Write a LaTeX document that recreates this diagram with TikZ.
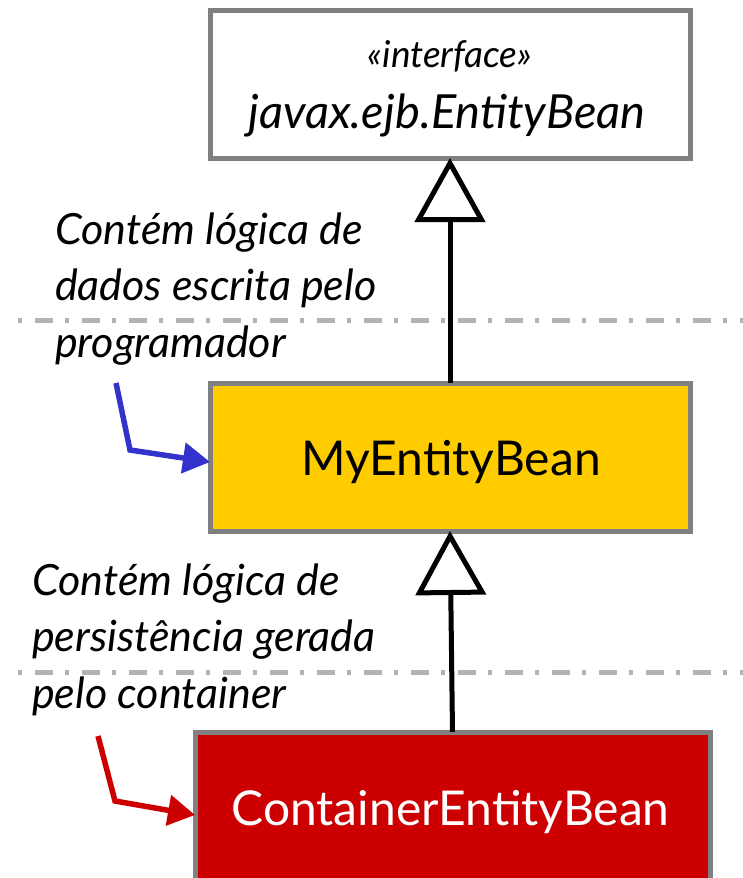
\documentclass[tikz,border=0pt]{standalone}
\usepackage{fontspec}
\setmainfont{Lato}
\usetikzlibrary{arrows.meta}
\definecolor{boxgray}{HTML}{808080}
\definecolor{sepgray}{HTML}{B3B3B3}
\definecolor{gold}{HTML}{FFCC00}
\definecolor{crimson}{HTML}{CC0000}
\definecolor{noteblue}{HTML}{3333CC}
\begin{document}
\begin{tikzpicture}[x=1pt,y=-1pt,
  classbox/.style={draw=boxgray, line width=5pt, outer sep=0pt, inner sep=0pt, rectangle},
  sepline/.style={sepgray, line width=5pt, dash pattern=on 4pt off 13pt on 18pt off 12pt},
  inherit/.style={line width=5pt, -{Triangle[open,length=64pt,width=70pt]}},
  note/.style={anchor=base west, inner sep=0pt, font=\fontsize{43}{56.5}\selectfont\itshape, align=left},
  callout/.style={line width=5.5pt, -{Triangle[length=27pt,width=30pt]}},
  label/.style={anchor=base, inner sep=0pt},
]
\useasboundingbox (0,0) rectangle (743,878);
% separators
\coordinate (s1a) at (18,320.5); \coordinate (s1b) at (743,320.5);
\coordinate (s2a) at (18,672); \coordinate (s2b) at (743,672);
\draw[sepline] (s1a) -- (s1b);
\draw[sepline] (s2a) -- (s2b);
% classes
\node[classbox, fill=white, minimum width=480pt, minimum height=148pt] (iface) at (450,84) {};
\node[classbox, fill=gold, minimum width=480pt, minimum height=148pt] (mybean) at (450,457) {};
\node[classbox, fill=crimson, minimum width=515pt, minimum height=153pt] (cbean) at (452.5,808.5) {};
\node[label, font=\fontsize{37}{37}\selectfont\itshape] (stereo) at (450,67) {«interface»};
\node[label, font=\fontsize{47}{47}\selectfont\itshape] (ifname) at (447,128) {javax.ejb.EntityBean};
\node[label, font=\fontsize{48}{48}\selectfont] (mylabel) at (451,475) {MyEntityBean};
\node[label, font=\fontsize{48}{48}\selectfont, text=white] (clabel) at (450.5,825) {ContainerEntityBean};
% inheritance
\draw[inherit] (mybean.north) -- (iface.south);
\draw[inherit] (cbean.north) -- (mybean.south);
% notes
\node[note] (note1) at (55,357) {Contém lógica de\\dados escrita pelo\\programador};
\node[note] (note2) at (32,708) {Contém lógica de\\persistência gerada\\pelo container};
% callouts
\coordinate (b0) at (116,383); \coordinate (b1) at (130,450);
\draw[callout, noteblue] (b0) -- (b1) -- ([yshift=-5pt]mybean.west);
\coordinate (r0) at (98,736); \coordinate (r1) at (115,801);
\draw[callout, crimson] (r0) -- (r1) -- ([yshift=-6.5pt]cbean.west);
\end{tikzpicture}
\end{document}
